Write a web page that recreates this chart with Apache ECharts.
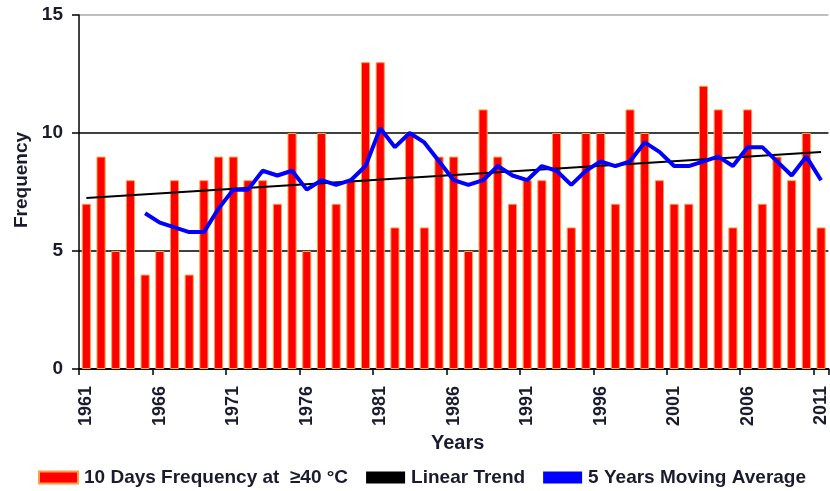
<!DOCTYPE html>
<html><head><meta charset="utf-8">
<script src="https://cdn.jsdelivr.net/npm/echarts@6/dist/echarts.min.js"></script>
<style>html,body{margin:0;padding:0;background:#fff}#c{width:830px;height:491px}</style>
</head><body><div id="c"></div>
<script>
var years = [];
for (var y = 1961; y <= 2011; y++) years.push(String(y));
var frequency = [7,9,5,8,4,5,8,4,8,9,9,8,8,7,10,5,10,7,8,13,13,6,10,6,9,9,5,11,9,7,8,8,10,6,10,10,7,11,10,8,7,7,12,11,6,11,7,9,8,10,6];
var movingAvg = [null,null,null,null,6.6,6.2,6.0,5.8,5.8,6.8,7.6,7.6,8.4,8.2,8.4,7.6,8.0,7.8,8.0,8.6,10.2,9.4,10.0,9.6,8.8,8.0,7.8,8.0,8.6,8.2,8.0,8.6,8.4,7.8,8.4,8.8,8.6,8.8,9.6,9.2,8.6,8.6,8.8,9.0,8.6,9.4,9.4,8.8,8.2,9.0,8.0];
var trendStart = 7.25, trendEnd = 9.2;
var yTicks = [0,5,10,15];

var txt = '#1b1b2f';
var font = 'Liberation Sans';
var chart = echarts.init(document.getElementById('c'));
chart.setOption({
  animation: false,
  textStyle: {fontFamily: font},
  grid: {left: 79, top: 15, width: 756, height: 354, containLabel: false},
  legend: {
    bottom: 4, left: 38, padding: 0,
    itemWidth: 39, itemHeight: 12, itemGap: 18,
    textStyle: {fontFamily: font, fontSize: 19, fontWeight: 'bold', color: txt, padding: [0,0,0,1]},
    data: [
      {name: '10 Days Frequency at  \u226540 \u00B0C', icon: 'rect'},
      {name: 'Linear Trend', icon: 'rect', itemStyle: {color: '#000'}},
      {name: '5 Years Moving Average', icon: 'rect', itemStyle: {color: '#0000ff'}}
    ]
  },
  xAxis: {
    type: 'category', data: years,
    name: 'Years', nameLocation: 'middle', nameGap: 62,
    nameTextStyle: {fontFamily: font, fontSize: 20, fontWeight: 'bold', color: txt, padding: [0,0,0,8]},
    axisLine: {lineStyle: {color: '#000', width: 2}},
    axisTick: {show: true, length: 6, lineStyle: {color: '#000', width: 1.5}},
    axisLabel: {
      rotate: 90, margin: 17, fontSize: 18, fontWeight: 'bold', color: txt,
      interval: function (i) { return i % 5 === 0; }
    },
    splitLine: {show: false}
  },
  yAxis: {
    type: 'value', min: 0, max: 15, interval: 5,
    name: 'Frequency', nameLocation: 'middle', nameGap: 48,
    nameTextStyle: {fontFamily: font, fontSize: 19, fontWeight: 'bold', color: txt, padding: [0,0,0,24]},
    axisLine: {show: true, lineStyle: {color: '#000', width: 1.5}},
    axisTick: {show: true, length: 7, lineStyle: {color: '#000', width: 1.5}},
    axisLabel: {fontSize: 19, fontWeight: 'bold', color: txt, margin: 16},
    splitLine: {show: true, lineStyle: {color: ['#000', '#000', '#000', '#aaaaaa'], width: 1.5}}
  },
  series: [
    {
      name: '10 Days Frequency at  \u226540 \u00B0C', type: 'bar', data: frequency,
      barWidth: '62%',
      itemStyle: {color: '#ff0000', borderColor: '#ffa040', borderWidth: 1}
    },
    {
      name: 'Linear Trend', type: 'line',
      data: [[0, trendStart], [years.length - 1, trendEnd]],
      symbol: 'none', lineStyle: {color: '#000', width: 2}, itemStyle: {color: '#000'}, z: 3
    },
    {
      name: '5 Years Moving Average', type: 'line', data: movingAvg,
      symbol: 'none', lineStyle: {color: '#0000ff', width: 4}, itemStyle: {color: '#0000ff'}, z: 4
    }
  ]
});
</script></body></html>
